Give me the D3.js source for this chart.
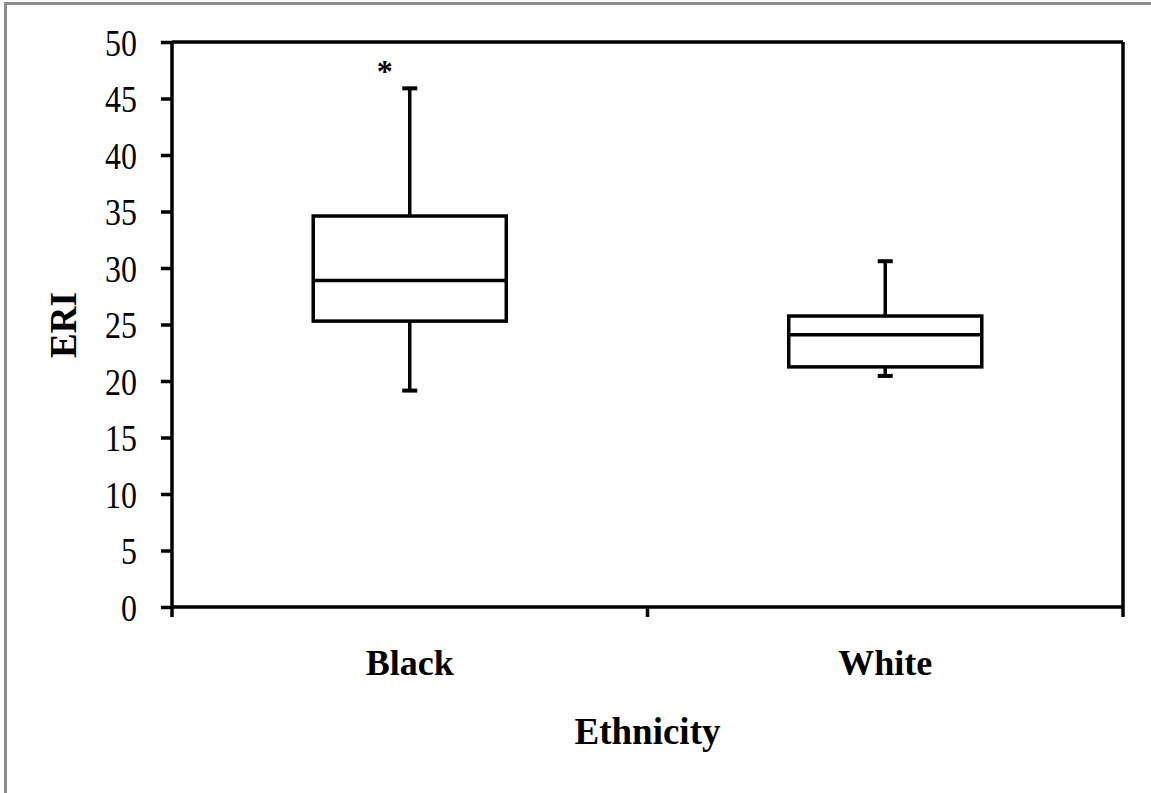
<!DOCTYPE html>
<html lang="en"><head><meta charset="utf-8">
<script type="text/javascript" src="https://cdn.jsdelivr.net/npm/d3@7"></script>
<style>
  body { margin: 0; background: #fff; }
  text { font-family: "Liberation Serif", "Times New Roman", serif; }
</style>
</head>
<body>
<script type="text/javascript">
// box plot of ERI by ethnicity
var groups = ["Black", "White"];
var whiskerLow = [19.15, 20.45];
var q1 = [25.3, 21.25];
var median = [28.9, 24.1];
var q3 = [34.6, 25.75];
var whiskerHigh = [45.9, 30.6];
var yTicks = [0, 5, 10, 15, 20, 25, 30, 35, 40, 45, 50];
var sigGroup = "Black";
var sigValue = 47.8;
var sigLabel = "*";

var width = 1151, height = 793;
var plotLeft = 172, plotRight = 1123, plotTop = 42, plotBottom = 607;
var lw = 3.5;

var svg = d3.select("body").append("svg")
  .attr("width", width)
  .attr("height", height);

// outer frame (right/bottom edges fall off the picture)
svg.append("rect")
  .attr("x", 5.5).attr("y", 3.5)
  .attr("width", 1160).attr("height", 800)
  .attr("fill", "#fff")
  .attr("stroke", "#8c8c8c")
  .attr("stroke-width", 3);

var x = d3.scaleBand().domain(groups).range([plotLeft, plotRight]).padding(0);
var y = d3.scaleLinear().domain([0, 50]).range([plotBottom, plotTop]);

var boxW = x.bandwidth() * 0.406;
var capW = 15;

var rows = groups.map(function(g, i) {
  return {g: g, lo: whiskerLow[i], q1: q1[i], med: median[i], q3: q3[i], hi: whiskerHigh[i]};
});

// plot frame: top and right lines
svg.append("line")
  .attr("x1", plotLeft).attr("x2", plotRight).attr("y1", y(50)).attr("y2", y(50))
  .attr("stroke", "#000").attr("stroke-width", lw);
svg.append("line")
  .attr("x1", plotRight).attr("x2", plotRight).attr("y1", y(50)).attr("y2", y(0))
  .attr("stroke", "#000").attr("stroke-width", lw);

// y axis
var yAxis = svg.append("g")
  .attr("transform", "translate(" + plotLeft + ",0)")
  .call(d3.axisLeft(y).tickValues(yTicks).tickSize(11).tickPadding(24).tickFormat(d3.format("d")));
yAxis.select(".domain").attr("stroke-width", lw).attr("d", "M0," + y(0) + "V" + y(50));
yAxis.selectAll(".tick line").attr("stroke-width", lw);
yAxis.selectAll(".tick text")
  .attr("font-size", 38)
  .attr("fill", "#000")
  .attr("font-family", "Liberation Serif, Times New Roman, serif")
  .attr("dy", "0.35em")
  .attr("transform", function() {
    var tx = -35;
    return "translate(" + tx + ",0) scale(0.84,1) translate(" + (-tx) + ",0)";
  });

// x axis with ticks at band edges
var xAxis = svg.append("g")
  .attr("transform", "translate(0," + plotBottom + ")");
xAxis.append("line")
  .attr("x1", plotLeft).attr("x2", plotRight)
  .attr("stroke", "#000").attr("stroke-width", lw);
var edges = [plotLeft].concat(groups.map(function(g) { return x(g) + x.bandwidth(); }));
xAxis.selectAll("line.tk").data(edges).enter().append("line")
  .attr("class", "tk")
  .attr("x1", function(d) { return d; }).attr("x2", function(d) { return d; })
  .attr("y1", 0).attr("y2", 10)
  .attr("stroke", "#000").attr("stroke-width", lw);
xAxis.selectAll("text").data(groups).enter().append("text")
  .attr("x", function(d) { return x(d) + x.bandwidth() / 2; })
  .attr("y", 68)
  .attr("text-anchor", "middle")
  .attr("font-size", 36)
  .attr("font-weight", "bold")
  .text(function(d) { return d; });

// boxes
var box = svg.append("g").selectAll("g").data(rows).enter().append("g");
var cx = function(d) { return x(d.g) + x.bandwidth() / 2; };

box.append("line")
  .attr("x1", cx).attr("x2", cx)
  .attr("y1", function(d) { return y(d.hi); }).attr("y2", function(d) { return y(d.q3); })
  .attr("stroke", "#000").attr("stroke-width", lw);
box.append("line")
  .attr("x1", cx).attr("x2", cx)
  .attr("y1", function(d) { return y(d.q1); }).attr("y2", function(d) { return y(d.lo); })
  .attr("stroke", "#000").attr("stroke-width", lw);
["hi", "lo"].forEach(function(k) {
  box.append("line")
    .attr("x1", function(d) { return cx(d) - capW / 2; })
    .attr("x2", function(d) { return cx(d) + capW / 2; })
    .attr("y1", function(d) { return y(d[k]); }).attr("y2", function(d) { return y(d[k]); })
    .attr("stroke", "#000").attr("stroke-width", lw + 0.5);
});
box.append("rect")
  .attr("x", function(d) { return cx(d) - boxW / 2; })
  .attr("y", function(d) { return y(d.q3); })
  .attr("width", boxW)
  .attr("height", function(d) { return y(d.q1) - y(d.q3); })
  .attr("fill", "none")
  .attr("stroke", "#000").attr("stroke-width", lw);
box.append("line")
  .attr("x1", function(d) { return cx(d) - boxW / 2; })
  .attr("x2", function(d) { return cx(d) + boxW / 2; })
  .attr("y1", function(d) { return y(d.med); }).attr("y2", function(d) { return y(d.med); })
  .attr("stroke", "#000").attr("stroke-width", lw);

// significance mark
svg.append("text")
  .attr("x", x(sigGroup) + x.bandwidth() / 2 - 25)
  .attr("y", y(sigValue))
  .attr("dy", "0.48em")
  .attr("text-anchor", "middle")
  .attr("font-size", 32)
  .attr("font-weight", "bold")
  .text(sigLabel);

// axis titles
svg.append("text")
  .attr("x", (plotLeft + plotRight) / 2)
  .attr("y", 744)
  .attr("text-anchor", "middle")
  .attr("font-size", 37)
  .attr("font-weight", "bold")
  .text("Ethnicity");

svg.append("text")
  .attr("transform", "translate(76," + 325 + ") rotate(-90)")
  .attr("text-anchor", "middle")
  .attr("font-size", 37)
  .attr("font-weight", "bold")
  .text("ERI");
</script>
</body></html>
